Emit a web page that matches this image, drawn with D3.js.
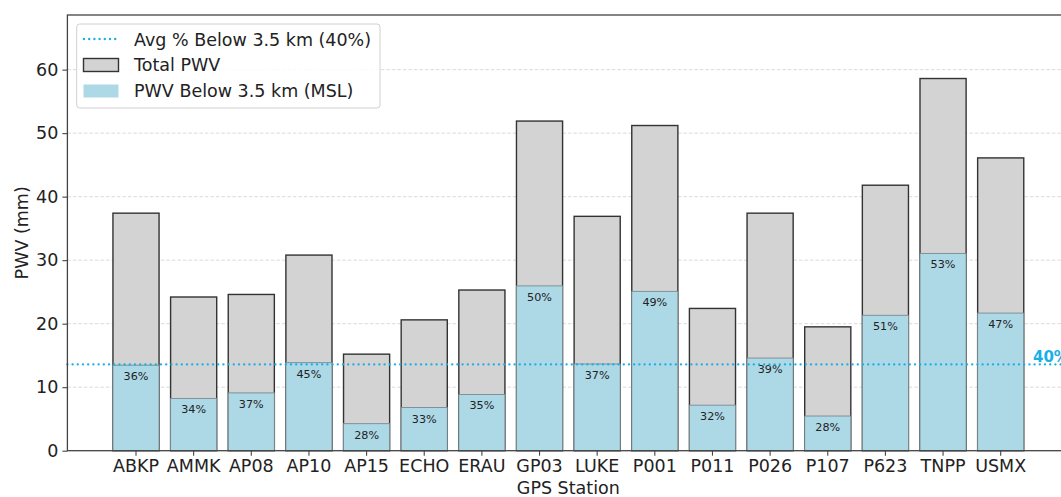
<!DOCTYPE html>
<html>
<head>
<meta charset="utf-8">
<script src="https://cdn.jsdelivr.net/npm/d3@7"></script>
<style>
  html, body { margin: 0; padding: 0; background: #fff; }
  svg { display: block; font-family: "DejaVu Sans", sans-serif; }
</style>
</head>
<body>
<svg id="chart" width="1061" height="497"></svg>
<script>
// Station names and precipitable water vapour values (mm)
const stations = ["ABKP","AMMK","AP08","AP10","AP15","ECHO","ERAU","GP03","LUKE","P001","P011","P026","P107","P623","TNPP","USMX"];
const totalPWV = [37.4, 24.2, 24.6, 30.8, 15.2, 20.6, 25.3, 51.9, 36.9, 51.2, 22.4, 37.4, 19.5, 41.8, 58.6, 46.1];
// share of the column below 3.5 km (MSL), percent
const pctBelow = [36, 34, 37, 45, 28, 33, 35, 50, 37, 49, 32, 39, 28, 51, 53, 47];
const avgPct = 40;
const yTicks = [0, 10, 20, 30, 40, 50, 60];

const belowPWV = totalPWV.map((t, i) => t * pctBelow[i] / 100);
const avgLine = d3.mean(totalPWV) * avgPct / 100;

const svg = d3.select("#chart");
const plot = { left: 67.4, right: 1069.3, top: 15, bottom: 450.7 };
const fs = 17.5;

const x = d3.scaleBand()
  .domain(stations)
  .range([plot.left, plot.right])
  .paddingInner(0.2)
  .paddingOuter(0.79);

const y = d3.scaleLinear()
  .domain([0, 68.6])
  .range([plot.bottom, plot.top]);

const cyan = "#1ab0e6";
const spine = "#444";

// horizontal dashed grid
svg.append("g")
  .selectAll("line")
  .data(yTicks.filter(d => d > 0))
  .join("line")
  .attr("x1", plot.left).attr("x2", plot.right)
  .attr("y1", d => y(d)).attr("y2", d => y(d))
  .attr("stroke", "#d6d6d6")
  .attr("stroke-width", 0.9)
  .attr("stroke-dasharray", "3.5,2");

// total PWV bars
svg.append("g")
  .selectAll("rect")
  .data(stations)
  .join("rect")
  .attr("x", d => x(d))
  .attr("width", x.bandwidth())
  .attr("y", (d, i) => y(totalPWV[i]))
  .attr("height", (d, i) => y(0) - y(totalPWV[i]))
  .attr("fill", "#d3d3d3")
  .attr("stroke", "#333")
  .attr("stroke-width", 1.4);

// portion below 3.5 km
svg.append("g")
  .selectAll("rect")
  .data(stations)
  .join("rect")
  .attr("x", d => x(d))
  .attr("width", x.bandwidth())
  .attr("y", (d, i) => y(belowPWV[i]))
  .attr("height", (d, i) => y(0) - y(belowPWV[i]))
  .attr("fill", "#add8e6")
  .attr("stroke", "#7a8a90")
  .attr("stroke-width", 0.9);

// percent labels inside the blue part
svg.append("g")
  .selectAll("text")
  .data(stations)
  .join("text")
  .attr("x", d => x(d) + x.bandwidth() / 2)
  .attr("y", (d, i) => y(belowPWV[i]) + 15)
  .attr("text-anchor", "middle")
  .attr("font-size", 11.2)
  .attr("fill", "#222")
  .text((d, i) => pctBelow[i] + "%");

// average line
svg.append("line")
  .attr("x1", plot.left).attr("x2", plot.right)
  .attr("y1", y(avgLine)).attr("y2", y(avgLine))
  .attr("stroke", cyan)
  .attr("stroke-width", 2.4)
  .attr("stroke-linecap", "round")
  .attr("stroke-dasharray", "0,5.2");

svg.append("text")
  .attr("x", 1033)
  .attr("y", y(avgLine) - 2)
  .attr("font-size", 15)
  .attr("font-weight", "bold")
  .attr("fill", cyan)
  .text(avgPct + "%");

// axes
const yAxis = d3.axisLeft(y).tickValues(yTicks).tickSize(5).tickPadding(4).tickFormat(d3.format("d"));
const gy = svg.append("g").attr("transform", `translate(${plot.left},0)`).call(yAxis);
gy.select(".domain").remove();
gy.selectAll(".tick line").attr("stroke", spine).attr("stroke-width", 1.1);
gy.selectAll(".tick text").attr("font-size", fs).attr("fill", "#222").attr("font-family", "DejaVu Sans");

const xAxis = d3.axisBottom(x).tickSize(5).tickPadding(4);
const gx = svg.append("g").attr("transform", `translate(0,${plot.bottom})`).call(xAxis);
gx.select(".domain").remove();
gx.selectAll(".tick line").attr("stroke", spine).attr("stroke-width", 1.1);
gx.selectAll(".tick text").attr("font-size", fs).attr("fill", "#222").attr("font-family", "DejaVu Sans");

// frame
svg.append("rect")
  .attr("x", plot.left).attr("y", plot.top)
  .attr("width", plot.right - plot.left).attr("height", plot.bottom - plot.top)
  .attr("fill", "none")
  .attr("stroke", spine)
  .attr("stroke-width", 1.3);

// axis titles
svg.append("text")
  .attr("transform", `translate(28,${(plot.top + plot.bottom) / 2}) rotate(-90)`)
  .attr("text-anchor", "middle")
  .attr("font-size", fs)
  .attr("fill", "#222")
  .text("PWV (mm)");

svg.append("text")
  .attr("x", (plot.left + plot.right) / 2)
  .attr("y", 494)
  .attr("text-anchor", "middle")
  .attr("font-size", fs)
  .attr("fill", "#222")
  .text("GPS Station");

// legend
const lg = svg.append("g");
lg.append("rect")
  .attr("x", 76.7).attr("y", 24).attr("width", 303.3).attr("height", 84)
  .attr("rx", 3)
  .attr("fill", "#fff").attr("fill-opacity", 0.85)
  .attr("stroke", "#d0d0d0").attr("stroke-width", 1);

lg.append("line")
  .attr("x1", 84).attr("x2", 118).attr("y1", 39).attr("y2", 39)
  .attr("stroke", cyan).attr("stroke-width", 2.4)
  .attr("stroke-linecap", "round").attr("stroke-dasharray", "0,5.2");
lg.append("rect")
  .attr("x", 83.5).attr("y", 58.5).attr("width", 35).attr("height", 13)
  .attr("fill", "#d3d3d3").attr("stroke", "#333").attr("stroke-width", 1.4);
lg.append("rect")
  .attr("x", 83.5).attr("y", 84.5).attr("width", 35).attr("height", 13)
  .attr("fill", "#add8e6");

const legendLabels = [`Avg % Below 3.5 km (${avgPct}%)`, "Total PWV", "PWV Below 3.5 km (MSL)"];
lg.selectAll("text.lbl")
  .data(legendLabels)
  .join("text")
  .attr("class", "lbl")
  .attr("x", 134)
  .attr("y", (d, i) => 45.5 + i * 25.8)
  .attr("font-size", fs)
  .attr("fill", "#222")
  .text(d => d);
</script>
</body>
</html>
